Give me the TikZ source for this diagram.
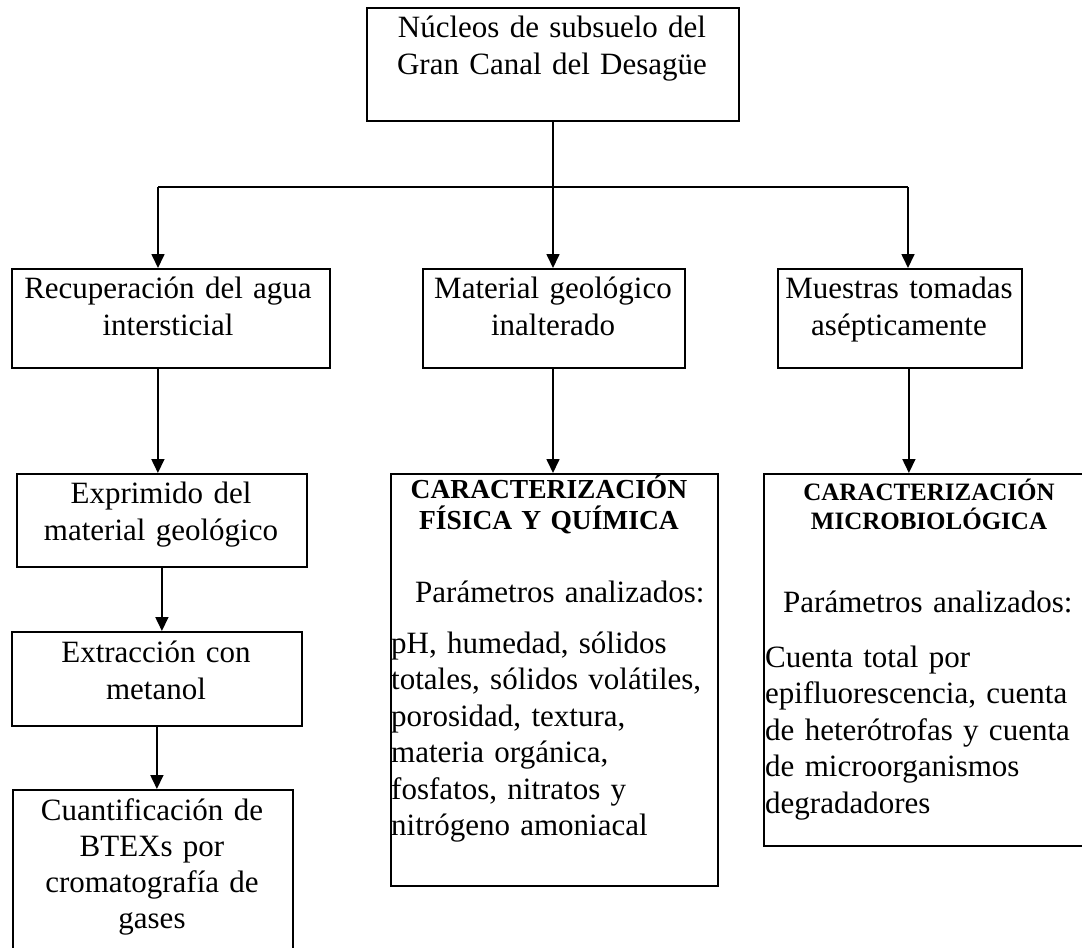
\documentclass[tikz,border=0pt]{standalone}
\usepackage{fontspec}
\setmainfont{Liberation Serif}
\usetikzlibrary{arrows.meta}
\begin{document}
\begin{tikzpicture}[x=1pt,y=-1pt,
  box/.style={draw, line width=1.8pt, rectangle, inner sep=0pt, anchor=north west},
  txt/.style={inner sep=0pt, font=\fontsize{31}{37}\selectfont, align=center, anchor=base},
  body/.style={inner sep=0pt, font=\fontsize{31}{36.5}\selectfont, align=left, anchor=base west, text width=330pt},
  head/.style={inner sep=0pt, font=\bfseries\fontsize{27.5}{31}\selectfont, align=center, anchor=base, text width=330pt},
  conn/.style={line width=1.7pt},
  arr/.style={conn, -{Triangle[width=13pt,length=14pt]}}
]
\useasboundingbox (0,0) rectangle (1082,948);
\clip (0,0) rectangle (1082,948);
\fill[white] (0,0) rectangle (1082,948);

% boxes
\node[box, minimum width=372pt, minimum height=113pt] (top) at (366,7) {};
\node[box, minimum width=318pt, minimum height=99pt] (rec) at (11,268) {};
\node[box, minimum width=262pt, minimum height=99pt] (mat) at (422,268) {};
\node[box, minimum width=244pt, minimum height=99pt] (mue) at (777,268) {};
\node[box, minimum width=290pt, minimum height=93pt] (exp) at (16,473) {};
\node[box, minimum width=290pt, minimum height=94pt] (ext) at (11,631) {};
\node[box, minimum width=280pt, minimum height=220pt] (cua) at (12,789) {};
\node[box, minimum width=327pt, minimum height=412pt] (fq) at (390,473) {};
\node[box, minimum width=340pt, minimum height=372pt] (mic) at (763,473) {};

% texts
\node[txt, text width=372pt] (toptxt) at (552,37) {Núcleos de subsuelo del\\Gran Canal del Desagüe};
\node[txt, text width=318pt] (rectxt) at (168,298) {Recuperación del agua\\intersticial};
\node[txt, text width=262pt] (mattxt) at (553,298) {Material geológico\\inalterado};
\node[txt, text width=244pt] (muetxt) at (899,298) {Muestras tomadas\\asépticamente};
\node[txt, text width=290pt] (exptxt) at (161,503) {Exprimido del\\material geológico};
\node[txt, text width=290pt] (exttxt) at (156,662) {Extracción con\\metanol};
\node[txt, text width=290pt, font=\fontsize{31}{36}\selectfont] (cuatxt) at (152,820) {Cuantificación de\\BTEXs por\\cromatografía de\\gases};

\node[head] (fqhead) at (549,498) {CARACTERIZACIÓN\\FÍSICA Y QUÍMICA};
\node[body] (fqpar) at (415,602) {Parámetros analizados:};
\node[body] (fqbody) at (391,653) {pH, humedad, sólidos\\totales, sólidos volátiles,\\porosidad, textura,\\materia orgánica,\\fosfatos, nitratos y\\nitrógeno amoniacal};

\node[head, font=\bfseries\fontsize{25}{29}\selectfont] (michead) at (929,500) {CARACTERIZACIÓN\\MICROBIOLÓGICA};
\node[body] (micpar) at (783,612) {Parámetros analizados:};
\node[body] (micbody) at (765,667) {Cuenta total por\\epifluorescencia, cuenta\\de heterótrofas y cuenta\\de microorganismos\\degradadores};

% connectors
\coordinate (jc) at (553,187);
\coordinate (jl) at (158,187);
\coordinate (jr) at (908,187);
\draw[conn] (top.south -| jc) -- (jc);
\draw[conn] (jl) -- (jr);
\draw[arr] (jl) -- (jl |- rec.north);
\draw[arr] (jc) -- (jc |- mat.north);
\draw[arr] (jr) -- (jr |- mue.north);
\draw[arr] ([xshift=-13pt]rec.south) -- ([xshift=-13pt]rec.south |- exp.north);
\draw[arr] (exp.south) -- (exp.south |- ext.north);
\draw[arr] (ext.south) -- (ext.south |- cua.north);
\draw[arr] (mat.south -| jc) -- (jc |- fq.north);
\draw[arr] ([xshift=9pt]mue.south) -- ([xshift=9pt]mue.south |- mic.north);
\end{tikzpicture}
\end{document}
